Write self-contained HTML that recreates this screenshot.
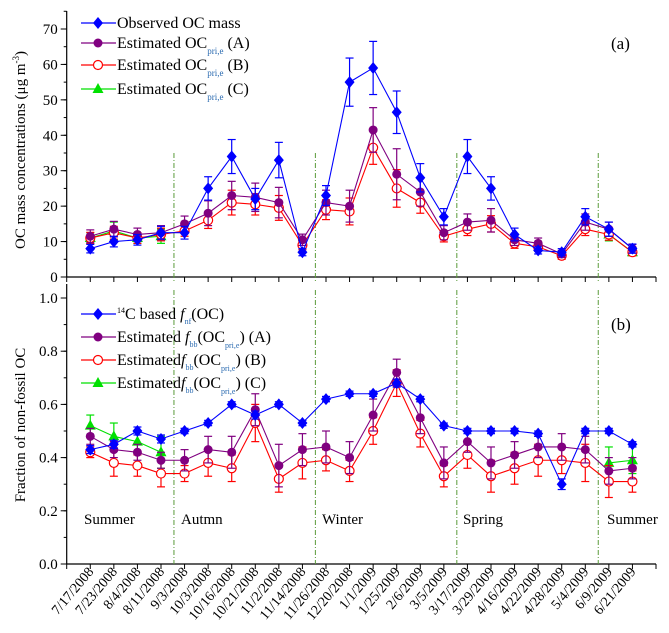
<!DOCTYPE html>
<html><head><meta charset="utf-8"><style>
html,body{margin:0;padding:0;background:#fff;}
svg{display:block;font-family:"Liberation Serif",serif;}
</style></head><body>
<svg id="chart" width="669" height="633" viewBox="0 0 669 633" xmlns="http://www.w3.org/2000/svg"></svg>
<script>
const dates=["7/17/2008","7/23/2008","8/4/2008","8/11/2008","9/3/2008","10/3/2008","10/16/2008","10/21/2008","11/2/2008","11/14/2008","11/26/2008","12/20/2008","1/1/2009","1/25/2009","2/6/2009","3/5/2009","3/17/2009","3/29/2009","4/16/2009","4/22/2009","4/28/2009","5/4/2009","6/9/2009","6/21/2009"];
const ocObserved=[8,10,10.5,12.5,12.5,25,34,22,33,7,23,55,59,46.5,28,17,34,25,12,7.5,7,17,13.5,8];
const ocObsErr=[1.2,1.5,1.5,1.8,1.8,3.3,4.8,3,5,1,2.8,6.8,7.5,6,4,2.3,4.8,3.3,1.8,1,1,2.3,2,1.3];
const ocA=[11.5,13.5,12,12.5,15,18,23,22.5,21,10.5,21,20,41.5,29,24,12.5,15.5,16,10.5,9.5,6.5,15.5,13.5,8];
const ocAErr=[1.8,2.2,1.8,2,2.2,3.5,4,4,4.3,1.6,3.5,4.5,6.3,7.2,4,2,2.3,3.3,1.6,1.5,1,2.3,2,1.2];
const ocB=[11,12.5,11,12,13,16,21,20.5,19.5,9,19,18.5,36.5,25,21,11.5,13.5,15,9.5,8.5,6,13.5,12,7];
const ocBErr=[1.6,1.8,1.5,1.8,1.5,2.3,3.5,3,3.5,1.3,2.8,3.8,4.7,5.3,3,1.6,1.8,2.3,1.4,1.2,1,1.8,1.6,1];
const ocC=[11,13,11,11.5,null,null,null,null,null,null,null,null,null,null,null,null,null,null,null,null,null,null,12,7];
const ocCErr=[1.5,2.5,1.5,2,0,0,0,0,0,0,0,0,0,0,0,0,0,0,0,0,0,0,1.8,1];
const fnf=[.43,.45,.50,.47,.50,.53,.60,.56,.60,.53,.62,.64,.64,.68,.62,.52,.50,.50,.50,.49,.30,.50,.50,.45];
const fnfErr=[.015,.015,.015,.015,.01,.01,.01,.015,.01,.01,.01,.01,.01,.015,.01,.01,.01,.01,.01,.01,.02,.01,.01,.01];
const fA=[.48,.43,.42,.39,.39,.43,.42,.58,.37,.43,.44,.40,.56,.72,.55,.38,.46,.38,.41,.44,.44,.43,.35,.36];
const fAErr=[.03,.03,.03,.03,.04,.05,.06,.06,.08,.06,.06,.06,.06,.05,.06,.06,.04,.06,.05,.04,.05,.05,.05,.04];
const fB=[.42,.38,.37,.34,.34,.38,.36,.53,.32,.38,.39,.35,.50,.68,.49,.33,.41,.33,.36,.39,.39,.38,.31,.31];
const fBErr=[.02,.05,.04,.05,.03,.05,.05,.07,.05,.06,.04,.04,.05,.05,.05,.04,.05,.06,.06,.06,.05,.07,.06,.04];
const fC=[.52,.48,.46,.42,null,null,null,null,null,null,null,null,null,null,null,null,null,null,null,null,null,null,.38,.39];
const fCErr=[.04,.05,.04,.06,0,0,0,0,0,0,0,0,0,0,0,0,0,0,0,0,0,0,.06,.05];
const topTicks=[0,10,20,30,40,50,60,70];
const botTicks=["0.0","0.2","0.4","0.6","0.8","1.0"];
const seasonBounds=[3.55,9.55,15.55,21.55];
const seasons=[["Summer",84],["Autmn",181],["Winter",322],["Spring",463],["Summer",607]];

const NS="http://www.w3.org/2000/svg";
const svg=document.getElementById('chart');
function mk(tag,attrs,parent){const e=document.createElementNS(NS,tag);for(const k in attrs)e.setAttribute(k,attrs[k]);(parent||svg).appendChild(e);return e;}
const X0=66.7,X1=656,xs=v=>X0+(v+1)*(X1-X0)/25;
const yTop=v=>277-v*3.543;
const yBot=v=>564-v*266;

function axes(yf,ymax,ticks,minorStep,name,base,top){
  const g=mk('g',{});
  
  mk('line',{x1:X0,y1:base,x2:X1,y2:base,stroke:'#000','stroke-width':1.2},g);
  mk('line',{x1:X0,y1:base,x2:X0,y2:top,stroke:'#000','stroke-width':1.2},g);
  for(let i=-1;i<=24;i++){mk('line',{x1:xs(i),y1:base,x2:xs(i),y2:base+5,stroke:'#000'},g);}
  for(let v=0;v<=ymax+1e-9;v+=minorStep){mk('line',{x1:X0-3,y1:yf(v),x2:X0,y2:yf(v),stroke:'#000'},g);}
  ticks.forEach(t=>{const v=parseFloat(t);mk('line',{x1:X0-6,y1:yf(v),x2:X0,y2:yf(v),stroke:'#000'},g);
    const tx=mk('text',{x:X0-9,y:yf(v)+5,'text-anchor':'end','font-size':15,fill:'#000'},g);tx.textContent=t;
    });
}
axes(yTop,75,topTicks.map(String),5,'top',277,11);
axes(yBot,1.05,botTicks,0.1,'bottom',564,284);

seasonBounds.forEach(b=>{const l=mk('line',{x1:xs(b),y1:153,x2:xs(b),y2:282,stroke:'#5a9a3a','stroke-dasharray':'5,2,1,2'});
 
 const l2=mk('line',{x1:xs(b),y1:290,x2:xs(b),y2:564,stroke:'#5a9a3a','stroke-dasharray':'5,2,1,2'});
 });
seasons.forEach(s=>{const t=mk('text',{x:s[1],y:524,'font-size':15,fill:'#000'});t.textContent=s[0];
 });

function marker(g,type,x,y,color){
  if(type==='diamond')mk('polygon',{points:`${x},${y-6} ${x+5},${y} ${x},${y+6} ${x-5},${y}`,fill:color},g);
  else if(type==='dot')mk('circle',{cx:x,cy:y,r:4.5,fill:color},g);
  else if(type==='open')mk('circle',{cx:x,cy:y,r:4.5,fill:'#fff',stroke:color,'stroke-width':1.2},g);
  else mk('polygon',{points:`${x},${y-6} ${x+5.5},${y+4} ${x-5.5},${y+4}`,fill:color},g);
}
function series(vals,errs,yf,color,type,name){
  const g=mk('g',{});
  let seg=[];const segs=[];
  vals.forEach((v,i)=>{if(v===null){if(seg.length)segs.push(seg);seg=[];}else seg.push([xs(i),yf(v)]);});
  if(seg.length)segs.push(seg);
  segs.forEach(s=>mk('polyline',{points:s.map(p=>p.join(',')).join(' '),fill:'none',stroke:color,'stroke-width':1.1},g));
  vals.forEach((v,i)=>{if(v===null)return;const x=xs(i),e=errs[i];
    mk('line',{x1:x,y1:yf(v-e),x2:x,y2:yf(v+e),stroke:color,'stroke-width':1.2},g);
    mk('line',{x1:x-4,y1:yf(v-e),x2:x+4,y2:yf(v-e),stroke:color,'stroke-width':1.2},g);
    mk('line',{x1:x-4,y1:yf(v+e),x2:x+4,y2:yf(v+e),stroke:color,'stroke-width':1.2},g);});
  vals.forEach((v,i)=>{if(v===null)return;marker(g,type,xs(i),yf(v),color);});
}
series(ocC,ocCErr,yTop,'#00e000','tri','oc-series-c');
series(ocB,ocBErr,yTop,'#ff0000','open','oc-series-b');
series(ocA,ocAErr,yTop,'#800080','dot','oc-series-a');
series(ocObserved,ocObsErr,yTop,'#0000ff','diamond','oc-observed-series');
series(fC,fCErr,yBot,'#00e000','tri','f-series-c');
series(fB,fBErr,yBot,'#ff0000','open','f-series-b');
series(fA,fAErr,yBot,'#800080','dot','f-series-a');
series(fnf,fnfErr,yBot,'#0000ff','diamond','f-nf-series');

dates.forEach((d,i)=>{const x=xs(i),y=572;const t=mk('text',{x:x+4,y:y,'text-anchor':'end','font-size':14,fill:'#000',transform:`rotate(-50 ${x+4} ${y})`});t.textContent=d;
 });

function legend(items,name){
  items.forEach(it=>{const g=mk('g',{});
    mk('line',{x1:81,y1:it.y,x2:116,y2:it.y,stroke:it.c,'stroke-width':1.2},g);marker(g,it.t,98,it.y,it.c);
    const t=mk('text',{x:117,y:it.y+5,'font-size':16,fill:'#000'},g);t.innerHTML=it.h;});
}
const sub='<tspan font-size="9" fill="#2a6ab0" dy="6">pri,e</tspan><tspan dy="-6">';
legend([
 {y:23,c:'#0000ff',t:'diamond',h:'Observed OC mass'},
 {y:43,c:'#800080',t:'dot',h:'Estimated OC'+sub+' (A)</tspan>'},
 {y:65,c:'#ff0000',t:'open',h:'Estimated OC'+sub+' (B)</tspan>'},
 {y:89,c:'#00e000',t:'tri',h:'Estimated OC'+sub+' (C)</tspan>'}],'top-legend');
const fbb='<tspan font-style="italic">f</tspan><tspan font-size="8" fill="#2a6ab0" dy="5">bb</tspan><tspan dy="-5">(OC</tspan><tspan font-size="8" fill="#2a6ab0" dy="6">pri,e</tspan><tspan dy="-6">)';
legend([
 {y:314,c:'#0000ff',t:'diamond',h:'<tspan font-size="8" dy="-6">14</tspan><tspan dy="6">C based </tspan><tspan font-style="italic">f</tspan><tspan font-size="8" fill="#2a6ab0" dy="5">nf</tspan><tspan dy="-5">(OC)</tspan>'},
 {y:337,c:'#800080',t:'dot',h:'Estimated '+fbb+' (A)</tspan>'},
 {y:360,c:'#ff0000',t:'open',h:'Estimated'+fbb+'  (B)</tspan>'},
 {y:383,c:'#00e000',t:'tri',h:'Estimated'+fbb+'  (C)</tspan>'}],'bottom-legend');

const pa=mk('text',{x:611,y:49,'font-size':17,fill:'#000'});pa.textContent='(a)';
const pb=mk('text',{x:611,y:330,'font-size':17,fill:'#000'});pb.textContent='(b)';
const ya=mk('text',{x:0,y:0,'font-size':15,'text-anchor':'middle',fill:'#000',transform:'translate(25,150) rotate(-90)'});
ya.innerHTML='OC mass concentrations (μg m<tspan font-size="9" dy="-6">-3</tspan><tspan dy="6">)</tspan>';

const yb=mk('text',{x:0,y:0,'font-size':15,'text-anchor':'middle',fill:'#000',transform:'translate(25,425) rotate(-90)'});
yb.textContent='Fraction of non-fossil OC';

</script>
</body></html>
